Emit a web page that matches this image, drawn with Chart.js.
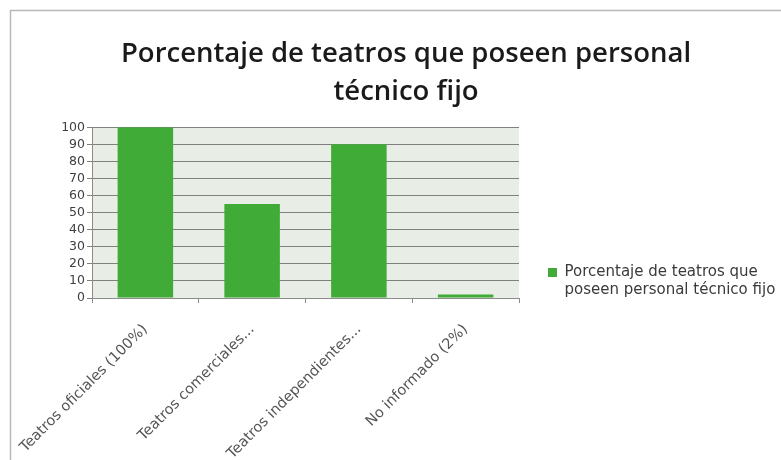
<!DOCTYPE html>
<html>
<head>
<meta charset="utf-8">
<script src="https://cdn.jsdelivr.net/npm/chart.js@4"></script>
<style>
html,body{margin:0;padding:0;background:#fff;overflow:hidden;width:781px;height:460px;}
#wrap{position:absolute;left:0;top:0;width:800px;height:460px;}
</style>
</head>
<body>
<div id="wrap"><canvas id="c" width="800" height="460"></canvas></div>
<script>
const categories = ["Teatros oficiales (100%)", "Teatros comerciales...", "Teatros independientes...", "No informado (2%)"];
const values = [100, 55, 90, 2];
const seriesName = ["Porcentaje de teatros que", "poseen personal técnico fijo"];
const titleLines = ["Porcentaje de teatros que poseen personal", "técnico fijo"];
const yTicks = [0, 10, 20, 30, 40, 50, 60, 70, 80, 90, 100];

const TITLE_FONT = "'Open Sans', 'DejaVu Sans', sans-serif";
const FONT = "'DejaVu Sans', 'Open Sans', sans-serif";

const frame = {
  id: 'frame',
  beforeLayout(chart) {
    const lg = chart.legend;
    if (lg && !lg._wrapped) {
      const orig = lg.fit;
      lg.fit = function () { orig.call(this); this.width = 281; };
      lg._wrapped = true;
    }
  },
  beforeDraw(chart) {
    const ctx = chart.ctx;
    ctx.save();
    ctx.fillStyle = '#fff';
    ctx.fillRect(0, 0, chart.width, chart.height);
    ctx.strokeStyle = '#b8b8b8';
    ctx.lineWidth = 1.5;
    ctx.beginPath();
    ctx.moveTo(10.5, chart.height);
    ctx.lineTo(10.5, 10.5);
    ctx.lineTo(chart.width, 10.5);
    ctx.stroke();
    const a = chart.chartArea;
    ctx.fillStyle = '#e8ede6';
    ctx.fillRect(a.left, a.top, a.right - a.left, a.bottom - a.top);
    ctx.restore();
  }
};

new Chart(document.getElementById('c'), {
  type: 'bar',
  data: {
    labels: categories,
    datasets: [{
      label: seriesName.join(' '),
      data: values,
      backgroundColor: '#40ac37',
      borderWidth: 0,
      categoryPercentage: 1.0,
      barPercentage: 0.52
    }]
  },
  plugins: [frame],
  options: {
    responsive: false,
    animation: false,
    devicePixelRatio: 1,
    layout: { padding: { left: 12, top: 12, right: 0, bottom: 0 } },
    plugins: {
      title: {
        display: true,
        text: titleLines,
        color: '#1a1a1a',
        font: { family: TITLE_FONT, size: 27.5, weight: '600', lineHeight: 1.35 },
        padding: { top: 24, bottom: 17 }
      },
      legend: {
        position: 'right',
        align: 'center',
        title: {
          display: true,
          text: ' ',
          font: { family: FONT, size: 10, lineHeight: 1 },
          padding: { top: 0, bottom: 84 }
        },
        labels: {
          color: '#3a3a3a',
          font: { family: FONT, size: 15, lineHeight: 1.2 },
          boxWidth: 9,
          boxHeight: 9,
          padding: 29,
          generateLabels(chart) {
            return [{
              text: seriesName,
              fillStyle: '#40ac37',
              strokeStyle: '#40ac37',
              fontColor: '#3a3a3a',
              lineWidth: 0,
              datasetIndex: 0
            }];
          }
        }
      },
      tooltip: { enabled: false }
    },
    scales: {
      x: {
        offset: true,
        afterFit(scale) {
          scale.height = 162;
          scale.paddingLeft = 0;
          scale.paddingRight = 0;
        },
        grid: {
          display: true,
          offset: true,
          drawOnChartArea: false,
          drawTicks: true,
          tickLength: 5,
          color: '#8c8c8c'
        },
        border: { display: true, color: '#8c8c8c', width: 1 },
        ticks: {
          autoSkip: false,
          maxRotation: 45,
          minRotation: 45,
          color: '#555',
          padding: 18,
          font: { family: FONT, size: 14.5 }
        }
      },
      y: {
        min: 0,
        max: 100,
        afterFit(scale) { scale.width = 80; },
        afterBuildTicks(scale) { scale.ticks = yTicks.map(v => ({ value: v })); },
        grid: {
          color: '#808080',
          lineWidth: 1,
          tickLength: 5,
          drawTicks: true
        },
        border: { display: true, color: '#8c8c8c', width: 1 },
        ticks: {
          autoSkip: false,
          color: '#404040',
          padding: 2,
          font: { family: FONT, size: 12.5 }
        }
      }
    }
  }
});
</script>
</body>
</html>
